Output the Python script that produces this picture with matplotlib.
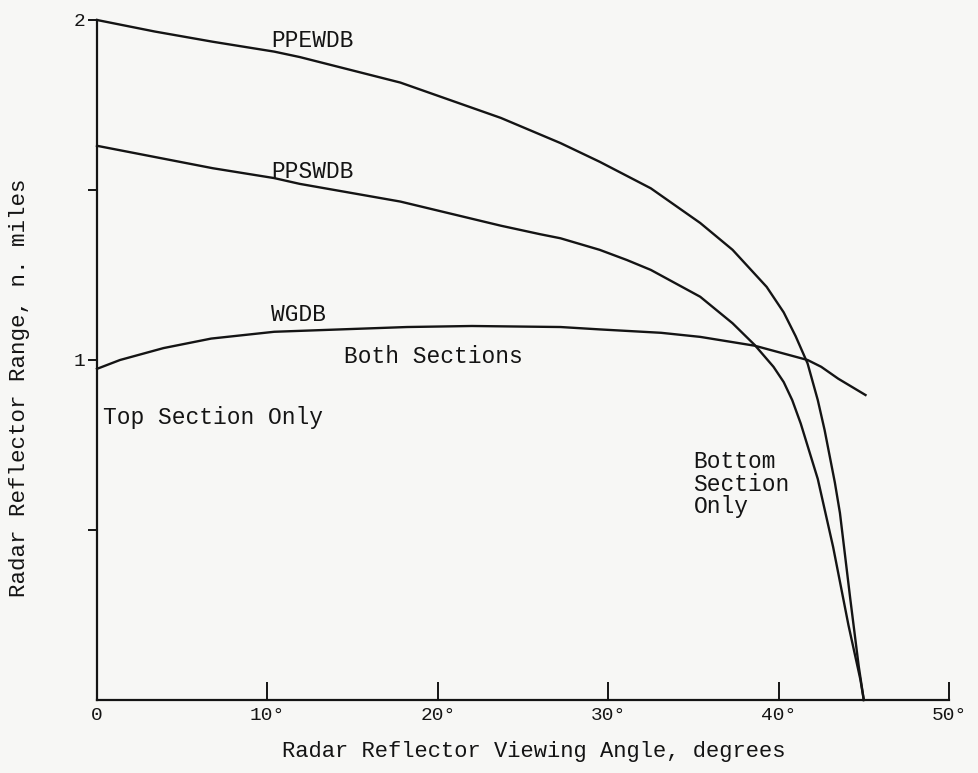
"""Radar reflector range vs viewing angle (PPEWDB / PPSWDB / WGDB), scanned-report style."""
import matplotlib
matplotlib.use("Agg")
import matplotlib.pyplot as plt

# values (angle in degrees, range in n. miles)
ppewdb_deg = [0, 3.4, 6.8, 10.4, 11.9, 17.8, 23.7, 27.2, 29.5, 32.5, 35.4, 37.3, 39.3, 40.3,
              41.0, 41.7, 42.3, 42.7, 43.3, 43.6, 44.2, 44.7, 45.0]
ppewdb_rng = [2.0, 1.966, 1.936, 1.907, 1.891, 1.816, 1.712, 1.638, 1.583, 1.505, 1.403, 1.324,
              1.215, 1.14, 1.07, 0.99, 0.882, 0.794, 0.64, 0.55, 0.30, 0.10, 0.0]

ppswdb_deg = [0, 3.4, 6.8, 10.4, 11.9, 17.8, 23.7, 26.0, 27.2, 29.5, 31.1, 32.5, 35.4, 37.3,
              38.6, 39.7, 40.3, 40.8, 41.3, 42.3, 43.2, 44.1, 44.8, 45.0]
ppswdb_rng = [1.63, 1.597, 1.564, 1.535, 1.518, 1.466, 1.395, 1.37, 1.358, 1.324, 1.294, 1.265,
              1.186, 1.108, 1.044, 0.98, 0.935, 0.882, 0.813, 0.65, 0.45, 0.22, 0.06, 0.0]

wgdb_deg = [0, 1.35, 3.9, 6.7, 10.4, 18.2, 22.0, 27.2, 29.5, 33.1, 35.4, 38.6, 41.7, 42.5,
            43.5, 45.1]
wgdb_rng = [0.974, 1.0, 1.035, 1.063, 1.083, 1.097, 1.10, 1.097, 1.09, 1.08, 1.068, 1.042, 1.0,
            0.98, 0.945, 0.897]

x_ticks = [0, 10, 20, 30, 40, 50]
x_ticklabels = ["0", "10°", "20°", "30°", "40°", "50°"]
y_ticks = [0.5, 1, 1.5, 2]
y_ticklabels = ["", "1", "", "2"]

INK = "#141414"
PAPER = "#f7f7f5"
MONO = "Liberation Mono"

fig = plt.figure(figsize=(9.79, 7.73), dpi=100, facecolor=PAPER)
ax = fig.add_axes([97 / 979, 1 - 700 / 773, (949 - 97) / 979, (700 - 20) / 773])
ax.set_facecolor(PAPER)

for xs, ys in [(ppewdb_deg, ppewdb_rng), (ppswdb_deg, ppswdb_rng), (wgdb_deg, wgdb_rng)]:
    ax.plot(xs, ys, color=INK, lw=1.7, solid_joinstyle="round", clip_on=False)

ax.set_xlim(0, 50); ax.set_ylim(0, 2)
for s in ("top", "right"):
    ax.spines[s].set_visible(False)
for s in ("left", "bottom"):
    ax.spines[s].set_color(INK); ax.spines[s].set_linewidth(1.6)

ax.set_xticks(x_ticks); ax.set_xticklabels(x_ticklabels, fontfamily=MONO, fontsize=14)
ax.set_yticks(y_ticks); ax.set_yticklabels(y_ticklabels, fontfamily=MONO, fontsize=14)
ax.tick_params(axis="x", direction="in", length=13, width=1.4, color=INK, pad=5, labelcolor=INK)
ax.tick_params(axis="y", direction="out", length=6.5, width=1.4, color=INK, pad=2, labelcolor=INK)

txt = dict(fontfamily=MONO, fontsize=16.5, color=INK)
ax.text(10.2, 1.94, "PPEWDB", va="center", **txt)
ax.text(10.2, 1.555, "PPSWDB", va="center", **txt)
ax.text(10.2, 1.135, "WGDB", va="center", **txt)
ax.text(14.5, 1.009, "Both Sections", va="center", **txt)
ax.text(0.35, 0.83, "Top Section Only", va="center", **txt)
ax.text(35.0, 0.735, "Bottom\nSection\nOnly", va="top", ha="left", linespacing=0.97, **txt)

fig.text(534 / 979, 1 - 752 / 773, "Radar Reflector Viewing Angle, degrees",
         ha="center", va="center", fontfamily=MONO, fontsize=15.9, color=INK)
fig.text(20 / 979, 1 - 388 / 773, "Radar Reflector Range, n. miles", rotation=90,
         ha="center", va="center", fontfamily=MONO, fontsize=16.2, color=INK)

fig.savefig("out.png", dpi=100, facecolor=PAPER)
